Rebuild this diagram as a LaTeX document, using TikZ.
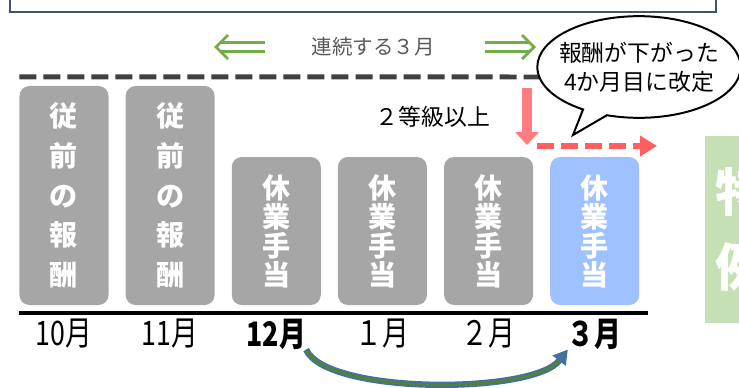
\documentclass[tikz,border=0pt]{standalone}
\usepackage{fontspec}
\setmainfont{Noto Sans CJK JP}
\usetikzlibrary{shapes.callouts, arrows.meta, positioning}
\definecolor{boxgray}{HTML}{A6A6A6}
\definecolor{boxblue}{HTML}{9FC1FF}
\definecolor{boxgreen}{HTML}{C5E0B4}
\definecolor{spangreen}{HTML}{70AD47}
\definecolor{dropred}{HTML}{FF7C80}
\definecolor{shiftred}{HTML}{FF5F5F}
\definecolor{framegray}{HTML}{44546A}
\definecolor{curveblue}{HTML}{41719C}
\definecolor{curvegreen}{HTML}{548235}
\newcommand{\tallmonth}[1]{\scalebox{0.95}[1.2]{#1}}
\tikzset{
	oldpay/.style = {fill=boxgray, rounded corners=0.3cm, minimum width=2.67cm, minimum height=6.57cm, inner sep=0pt, text=white, align=center, font=\bfseries\fontsize{24}{34}\selectfont},
	leave/.style = {oldpay, minimum height=4.44cm, font=\bfseries\fontsize{24}{24.7}\selectfont},
	month/.style = {inner sep=0pt, font=\fontsize{24}{24}\selectfont},
	bigmonth/.style = {month, font=\bfseries\fontsize{24}{24}\selectfont},
	wideshaft/.style = {draw=spangreen, line width=2.2pt, double=white, double distance=5pt},
	chevron/.style = {draw=spangreen, line width=2.4pt, line join=miter},
	droparrow/.style = {draw=dropred, line width=8.5pt, -{Triangle[length=11pt, width=19.5pt]}},
	shiftarrow/.style = {draw=shiftred, line width=5pt, dash pattern=on 14.5pt off 6pt, -{Triangle[length=14.5pt, width=17pt]}},
	curvearrow/.style = {draw=curveblue, line width=1.6pt, double=curvegreen, double distance=2.2pt, -{Triangle[length=12pt, width=14pt]}},
}

\begin{document}
\begin{tikzpicture}[x=0.03cm, y=-0.03cm]
	\useasboundingbox (0,0) rectangle (739,387);
	
	% frame at the top
	\draw[draw=framegray, fill=white, line width=1.7pt] (10,-10) rectangle (716,12);
	
	% pay boxes
	\node[oldpay] (pay10) at (64,195.5) {従\\前\\の\\報\\酬};
	\node[oldpay, right=0.5cm of pay10] (pay11) {従\\前\\の\\報\\酬};
	\node[leave, right=0.5cm of pay11.south east, anchor=south west] (leave12) {休\\業\\手\\当};
	\node[leave, right=0.5cm of leave12] (leave1) {休\\業\\手\\当};
	\node[leave, right=0.5cm of leave1] (leave2) {休\\業\\手\\当};
	\node[leave, fill=boxblue, right=0.5cm of leave2] (leave3) {休\\業\\手\\当};
	
	% special case box (cut off at the right)
	\node[fill=boxgreen, minimum width=2.16cm, minimum height=5.61cm, inner sep=0pt, text=white, align=center, font=\bfseries\fontsize{44}{64}\selectfont] (tokurei) at (741,229.5) {特\\例};
	
	% months
	\node[month, below=0.4cm of pay10] (m10) {\tallmonth{10月}};
	\node[month, below=0.4cm of pay11] (m11) {\tallmonth{11月}};
	\node[bigmonth, below=0.4cm of leave12] (m12) {\tallmonth{12月}};
	\node[month, below=0.4cm of leave1] (m1) {\tallmonth{１月}};
	\node[month, below=0.4cm of leave2] (m2) {\tallmonth{２月}};
	\node[bigmonth, below=0.4cm of leave3] (m3) {\tallmonth{３月}};
	
	% ground line and dashed line
	\draw[line width=3.5pt] ([yshift=-0.22cm]pay10.south west) -- ([xshift=0.27cm, yshift=-0.22cm]leave3.south east);
	\coordinate (dashend) at (540,77);
	\draw[draw=black!75, line width=4.25pt, dash pattern=on 14.5pt off 6pt] ([yshift=0.27cm]pay10.north west) -- (dashend);
	
	% three months
	\node[text=black!65, font=\fontsize{17.5}{17.5}\selectfont] (span) at (373,47) {連続する３月};
	\coordinate (spanLstart) at (265,47);
	\coordinate (spanLend) at (216,47);
	\coordinate (spanRstart) at (485,47);
	\coordinate (spanRend) at (534,47);
	\draw[wideshaft] (spanLstart) -- ([xshift=3]spanLend);
	\draw[chevron] ([shift={(12,-12)}]spanLend) -- (spanLend) -- ++(12,12);
	\draw[wideshaft] (spanRstart) -- ([xshift=-3]spanRend);
	\draw[chevron] ([shift={(-12,-12)}]spanRend) -- (spanRend) -- ++(-12,12);
	
	% callout
	\node[ellipse callout, draw, fill=white, line width=1.7pt, inner xsep=-0.4cm, inner ysep=0pt, minimum width=6.1cm, minimum height=3.05cm, align=center, font=\fontsize{19.5}{24.7}\selectfont, callout absolute pointer={(573,135)}] (bubble) at (639,67) {報酬が下がった\\4か月目に改定};
	
	\node[font=\fontsize{19.5}{19.5}\selectfont] (grade) at (433,117) {２等級以上};
	
	% red arrows
	\coordinate (dropstart) at (527,88);
	\coordinate (dropend) at (527,145);
	\coordinate (shiftstart) at (537,146);
	\coordinate (shiftend) at (657,146);
	\draw[droparrow] (dropstart) -- (dropend);
	\draw[shiftarrow] (shiftstart) -- (shiftend);
	
	% 12 -> 3
	\draw[curvearrow] (m12.south east) .. controls +(20,45) and +(-35,45) .. (m3.south west);
	
\end{tikzpicture}
\end{document}
